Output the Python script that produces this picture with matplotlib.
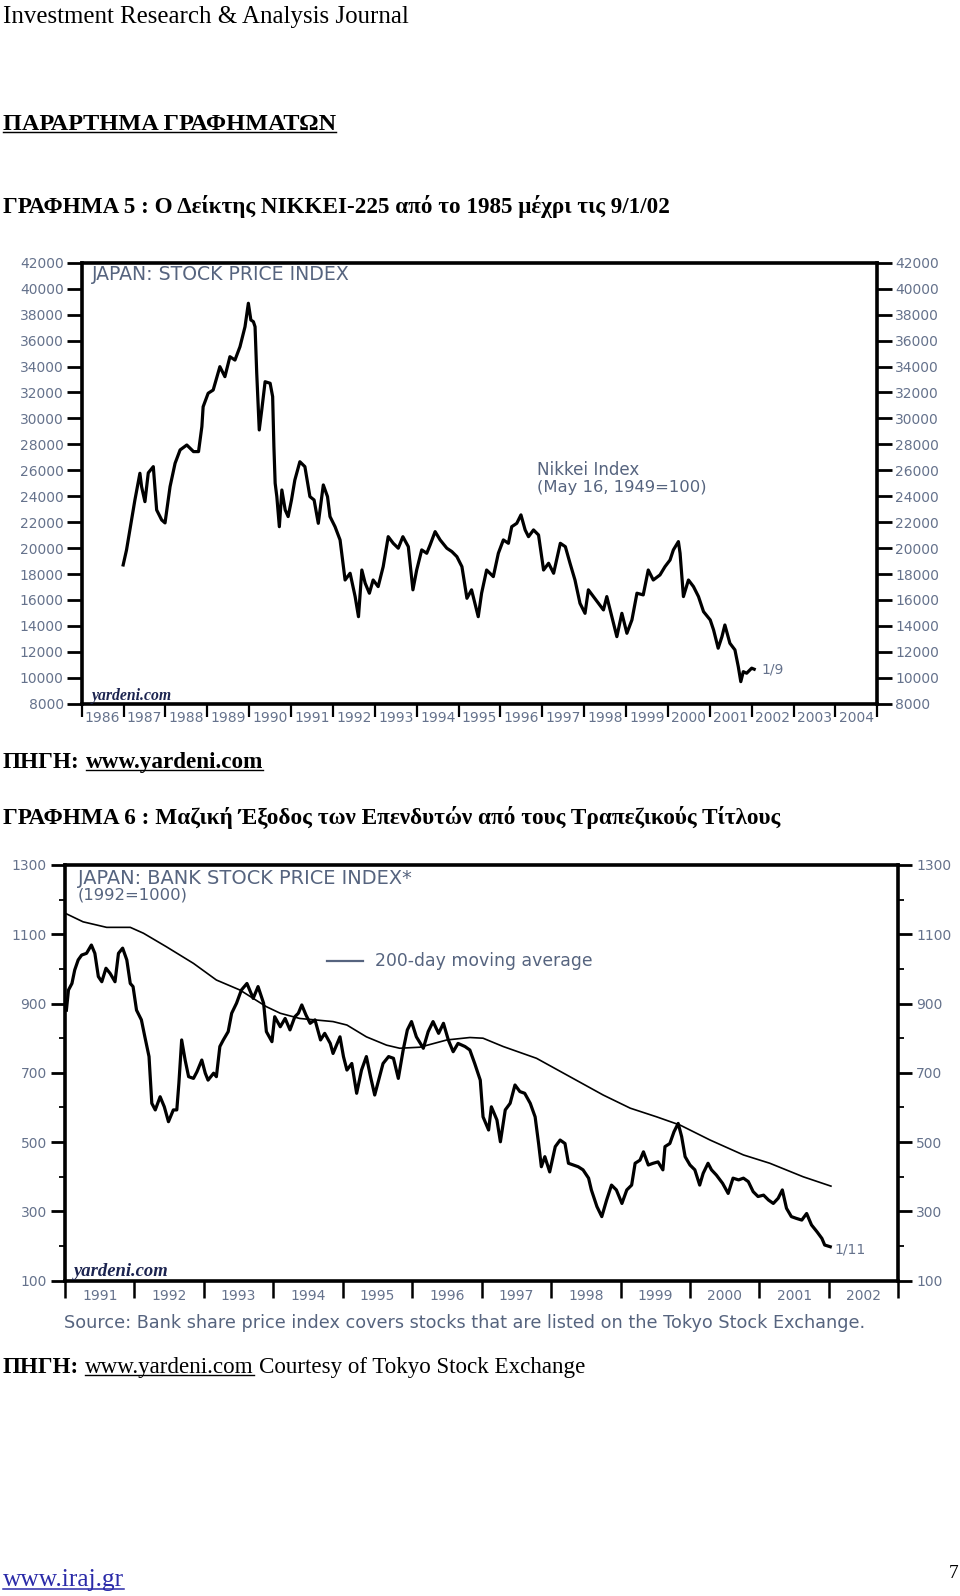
import matplotlib
matplotlib.use("Agg")
import matplotlib.pyplot as plt
from matplotlib.lines import Line2D

# ---------------- data ----------------
# Chart 1: Nikkei 225
nk_year = [1986.99, 1987.07, 1987.15, 1987.27, 1987.39, 1987.43, 1987.51, 1987.59, 1987.71, 1987.79,
           1987.91, 1987.99, 1988.11, 1988.23, 1988.35, 1988.51, 1988.67, 1988.79, 1988.87, 1988.90,
           1989.02, 1989.14, 1989.30, 1989.42, 1989.54, 1989.66, 1989.78, 1989.90, 1989.98, 1990.04,
           1990.10, 1990.14, 1990.18, 1990.24, 1990.30, 1990.38, 1990.50, 1990.56, 1990.59, 1990.62,
           1990.66, 1990.72, 1990.78, 1990.86, 1990.93, 1991.01, 1991.09, 1991.21, 1991.33, 1991.45,
           1991.55, 1991.65, 1991.77, 1991.87, 1991.93, 1992.05, 1992.17, 1992.29, 1992.41, 1992.53,
           1992.61, 1992.69, 1992.77, 1992.87, 1992.96, 1993.08, 1993.20, 1993.32, 1993.44, 1993.56,
           1993.67, 1993.80, 1993.91, 1994.00, 1994.12, 1994.24, 1994.32, 1994.44, 1994.56, 1994.72,
           1994.84, 1994.96, 1995.08, 1995.20, 1995.31, 1995.47, 1995.55, 1995.67, 1995.83, 1995.95,
           1996.07, 1996.19, 1996.27, 1996.39, 1996.49, 1996.59, 1996.67, 1996.79, 1996.91, 1997.03,
           1997.15, 1997.27, 1997.43, 1997.55, 1997.66, 1997.78, 1997.90, 1998.02, 1998.10, 1998.22,
           1998.34, 1998.46, 1998.54, 1998.66, 1998.78, 1998.90, 1999.02, 1999.14, 1999.26, 1999.41,
           1999.53, 1999.65, 1999.81, 1999.93, 2000.05, 2000.13, 2000.25, 2000.29, 2000.37, 2000.49,
           2000.61, 2000.73, 2000.85, 2001.01, 2001.09, 2001.20, 2001.29, 2001.36, 2001.48, 2001.60,
           2001.68, 2001.74, 2001.80, 2001.88, 2002.00, 2002.06]
nk_value = [18700, 19850, 21400, 23700, 25770, 24740, 23580, 25800, 26280, 22940,
            22170, 21940, 24740, 26540, 27570, 27950, 27440, 27440, 29370, 30900,
            31940, 32190, 33990, 33220, 34760, 34500, 35530, 37070, 38880, 37590,
            37460, 37070, 33480, 29110, 30650, 32830, 32710, 31680, 27820, 25000,
            23970, 21650, 24480, 22940, 22430, 23710, 25250, 26660, 26280, 23970,
            23710, 21910, 24870, 23970, 22430, 21650, 20630, 17540, 18060, 16260,
            14710, 18310, 17290, 16520, 17540, 17030, 18570, 20880, 20370, 19990,
            20880, 20110, 16780, 18310, 19860, 19600, 20240, 21270, 20630, 19990,
            19730, 19340, 18570, 16130, 16780, 14710, 16520, 18310, 17800, 19600,
            20630, 20370, 21650, 21910, 22560, 21400, 20880, 21400, 21010, 18310,
            18830, 18060, 20370, 20110, 18850, 17540, 15740, 14970, 16780, 16260,
            15740, 15230, 16260, 14710, 13170, 14970, 13430, 14460, 16520, 16390,
            18310, 17540, 17930, 18570, 19080, 19860, 20500, 19600, 16260, 17540,
            17030, 16260, 15100, 14460, 13690, 12280, 13170, 14070, 12660, 12150,
            10860, 9700, 10470, 10350, 10740, 10660]
nk_years_axis = list(range(1986, 2005))
nk_yticks = list(range(8000, 42001, 2000))

# Chart 2: Japan bank stock price index and its 200-day moving average
bk_year = [1991.02, 1991.05, 1991.10, 1991.14, 1991.19, 1991.24, 1991.31, 1991.38, 1991.43, 1991.48,
           1991.53, 1991.59, 1991.65, 1991.72, 1991.77, 1991.83, 1991.89, 1991.94, 1991.98, 1992.03,
           1992.10, 1992.15, 1992.21, 1992.25, 1992.30, 1992.37, 1992.43, 1992.49, 1992.56, 1992.61,
           1992.64, 1992.68, 1992.73, 1992.78, 1992.85, 1992.90, 1992.97, 1993.02, 1993.06, 1993.14,
           1993.18, 1993.23, 1993.28, 1993.35, 1993.40, 1993.47, 1993.54, 1993.62, 1993.66, 1993.71,
           1993.78, 1993.86, 1993.90, 1993.98, 1994.02, 1994.10, 1994.17, 1994.24, 1994.31, 1994.36,
           1994.41, 1994.47, 1994.53, 1994.60, 1994.68, 1994.74, 1994.82, 1994.86, 1994.96, 1995.01,
           1995.06, 1995.13, 1995.20, 1995.27, 1995.34, 1995.40, 1995.46, 1995.53, 1995.58, 1995.66,
           1995.73, 1995.80, 1995.87, 1995.93, 1995.99, 1996.06, 1996.16, 1996.23, 1996.30, 1996.38,
           1996.45, 1996.52, 1996.59, 1996.66, 1996.76, 1996.83, 1996.90, 1996.98, 1997.02, 1997.10,
           1997.14, 1997.22, 1997.27, 1997.34, 1997.41, 1997.48, 1997.55, 1997.62, 1997.70, 1997.77,
           1997.82, 1997.86, 1997.91, 1997.98, 1998.06, 1998.13, 1998.20, 1998.25, 1998.32, 1998.39,
           1998.46, 1998.54, 1998.58, 1998.66, 1998.73, 1998.80, 1998.87, 1998.94, 1999.02, 1999.09,
           1999.16, 1999.21, 1999.28, 1999.33, 1999.40, 1999.47, 1999.54, 1999.61, 1999.64, 1999.71,
           1999.77, 1999.83, 1999.88, 1999.93, 2000.00, 2000.07, 2000.14, 2000.19, 2000.26, 2000.31,
           2000.38, 2000.47, 2000.55, 2000.62, 2000.70, 2000.77, 2000.84, 2000.91, 2000.98, 2001.06,
           2001.13, 2001.20, 2001.27, 2001.33, 2001.39, 2001.46, 2001.53, 2001.61, 2001.68, 2001.75,
           2001.83, 2001.90, 2001.94, 2002.02]
bk_value = [881, 939, 958, 997, 1026, 1040, 1045, 1069, 1045, 978,
            963, 1002, 987, 963, 1045, 1060, 1026, 958, 949, 881,
            853, 804, 747, 612, 593, 631, 602, 559, 593, 593,
            670, 795, 737, 689, 684, 703, 737, 699, 679, 699,
            689, 776, 795, 819, 872, 901, 939, 958, 939, 915,
            949, 901, 819, 790, 862, 833, 857, 824, 862, 872,
            896, 867, 843, 853, 795, 814, 785, 756, 804, 747,
            708, 727, 641, 708, 747, 689, 636, 689, 727, 747,
            742, 684, 766, 824, 848, 804, 771, 819, 848, 814,
            843, 795, 761, 785, 776, 766, 727, 679, 573, 535,
            602, 564, 501, 593, 612, 665, 646, 641, 612, 573,
            496, 429, 458, 414, 487, 506, 496, 439, 434, 429,
            420, 396, 362, 314, 285, 333, 376, 362, 323, 362,
            376, 439, 448, 472, 434, 439, 443, 420, 487, 496,
            530, 554, 516, 458, 434, 420, 376, 410, 439, 420,
            405, 381, 352, 396, 391, 396, 386, 357, 343, 347,
            333, 323, 338, 362, 309, 285, 280, 275, 294, 261,
            241, 222, 203, 198]
ma_year = [1991.00, 1991.26, 1991.60, 1991.94, 1992.13, 1992.46, 1992.85, 1993.18, 1993.52, 1993.90,
           1994.10, 1994.38, 1994.86, 1995.06, 1995.34, 1995.63, 1995.82, 1996.11, 1996.50, 1996.83,
           1997.02, 1997.31, 1997.79, 1998.27, 1998.75, 1999.14, 1999.52, 1999.86, 2000.29, 2000.77,
           2001.15, 2001.63, 2002.03]
ma_value = [1161, 1136, 1120, 1120, 1103, 1064, 1016, 968, 939, 891,
            872, 857, 848, 838, 804, 780, 771, 774, 795, 802,
            800, 776, 742, 689, 636, 598, 573, 549, 506, 463,
            439, 400, 373]
bk_years_axis = list(range(1991, 2003))
bk_yticks = list(range(100, 1301, 200))
bk_yminor = list(range(200, 1201, 200))

# ---------------- figure ----------------
W, H = 960, 1596
fig = plt.figure(figsize=(W / 100, H / 100), dpi=100)
fig.patch.set_facecolor("white")
renderer = fig.canvas.get_renderer()

SLATE = "#56647f"
TICK = "#65728c"
NAVY = "#1c2450"
SERIF = "Liberation Serif"
TICKSIZE = 10


def fx(x):
    return x / W


def fy(y):
    return 1 - y / H


def twidth(t):
    return t.get_window_extent(renderer).width


def runs_line(x, y, runs, target, family=SERIF, va="baseline", gap_em=0.25):
    def place(size):
        objs = []
        cur = x
        gap = size * 100 / 72 * gap_em
        for i, (s, opt) in enumerate(runs):
            if i > 0:
                cur += gap
            t = fig.text(fx(cur), fy(y), s, fontsize=size, family=family,
                         fontweight=opt.get("weight", "normal"),
                         fontstyle=opt.get("style", "normal"),
                         color=opt.get("color", "black"), va=va, ha="left")
            w = twidth(t)
            objs.append((t, cur, w, opt))
            cur += w
        return objs, cur - x

    objs, total = place(20)
    for o in objs:
        o[0].remove()
    size = 20 * target / total
    objs, total = place(size)
    for t, x0, w, opt in objs:
        if opt.get("underline"):
            uy = y + size * 100 / 72 * 0.10
            fig.add_artist(Line2D([fx(x0), fx(x0 + w)], [fy(uy), fy(uy)],
                                  color=opt.get("color", "black"),
                                  lw=max(0.9, size * 0.06)))
    return size


# ---------------- page text ----------------
runs_line(3, 22.5, [("Investment Research & Analysis Journal", {})], 406)
runs_line(3, 130, [("ΠΑΡΑΡΤΗΜΑ ΓΡΑΦΗΜΑΤΩΝ", {"weight": "bold", "underline": True})], 332)
runs_line(3, 213, [("ΓΡΑΦΗΜΑ 5 : Ο Δείκτης NIKKEI-225 από το 1985 μέχρι τις 9/1/02",
                    {"weight": "bold"})], 667)
runs_line(3, 768, [("ΠΗΓΗ:", {"weight": "bold"}),
                   ("www.yardeni.com", {"weight": "bold", "underline": True})], 259)
runs_line(3, 824, [("ΓΡΑΦΗΜΑ 6 : Μαζική Έξοδος των Επενδυτών από τους Τραπεζικούς Τίτλους",
                    {"weight": "bold"})], 778)
runs_line(3, 1373, [("ΠΗΓΗ:", {"weight": "bold"}),
                    ("www.yardeni.com", {"underline": True}),
                    ("Courtesy of Tokyo Stock Exchange", {})], 582)
runs_line(3, 1586, [("www.iraj.gr", {"underline": True, "color": "#2a2aa8"})], 121)
fig.text(fx(958), fy(1578), "7", fontsize=14, family=SERIF, ha="right", va="baseline")

# ---------------- chart 1 ----------------
ax1 = fig.add_axes([fx(81.7), fy(703.7), (877.3 - 81.7) / W, (703.7 - 262.8) / H])
ax1.plot(nk_year, nk_value, color="black", lw=2.3, solid_joinstyle="round")
ax1.set_xlim(1986, 2005)
ax1.set_ylim(8000, 42000)
ax1.set_yticks(nk_yticks)
ax1.set_yticklabels([str(v) for v in nk_yticks])
ax1.tick_params(axis="y", which="major", left=True, right=True, labelleft=True,
                labelright=True, length=11, width=2, direction="out",
                labelsize=TICKSIZE, labelcolor=TICK, pad=2)
ax1.set_xticks(list(range(1986, 2006)))
ax1.set_xticklabels([])
ax1.set_xticks([y + 0.5 for y in nk_years_axis], minor=True)
ax1.set_xticklabels([str(y) for y in nk_years_axis], minor=True)
ax1.tick_params(axis="x", which="major", length=9, width=1.6, direction="out")
ax1.tick_params(axis="x", which="minor", length=0, pad=5, labelsize=TICKSIZE, labelcolor=TICK)
for sp in ax1.spines.values():
    sp.set_linewidth(2.6)

runs_line(92, 280, [("JAPAN: STOCK PRICE INDEX", {"color": SLATE})], 258,
          family="DejaVu Sans")
runs_line(537, 475, [("Nikkei Index", {"color": SLATE})], 102, family="DejaVu Sans")
runs_line(537, 492, [("(May 16, 1949=100)", {"color": SLATE})], 170, family="DejaVu Sans")
ax1.annotate("1/9", xy=(nk_year[-1], nk_value[-1]), xytext=(5, 0),
             textcoords="offset points", fontsize=TICKSIZE, color=TICK, va="center")
runs_line(92, 700, [("yardeni.com", {"color": NAVY, "style": "italic", "weight": "bold"})], 80)

# ---------------- chart 2 ----------------
ax2 = fig.add_axes([fx(65), fy(1280.7), (898.3 - 65) / W, (1280.7 - 865) / H])
ax2.plot(bk_year, bk_value, color="black", lw=2.3, solid_joinstyle="round")
ax2.plot(ma_year, ma_value, color="black", lw=1.2)
ax2.set_xlim(1991, 2003)
ax2.set_ylim(100, 1300)
ax2.set_yticks(bk_yticks)
ax2.set_yticklabels([str(v) for v in bk_yticks])
ax2.set_yticks(bk_yminor, minor=True)
ax2.tick_params(axis="y", which="major", left=True, right=True, labelleft=True,
                labelright=True, length=10, width=2, direction="out",
                labelsize=TICKSIZE, labelcolor=TICK, pad=3)
ax2.tick_params(axis="y", which="minor", left=True, right=True, length=4, width=1.3,
                direction="out")
ax2.set_xticks(list(range(1991, 2004)))
ax2.set_xticklabels([])
ax2.set_xticks([y + 0.5 for y in bk_years_axis], minor=True)
ax2.set_xticklabels([str(y) for y in bk_years_axis], minor=True)
ax2.tick_params(axis="x", which="major", length=12, width=1.8, direction="out")
ax2.tick_params(axis="x", which="minor", length=0, pad=6, labelsize=TICKSIZE, labelcolor=TICK)
for sp in ax2.spines.values():
    sp.set_linewidth(2.6)

runs_line(78, 884, [("JAPAN: BANK STOCK PRICE INDEX*", {"color": SLATE})], 335,
          family="DejaVu Sans")
runs_line(78, 899, [("(1992=1000)", {"color": SLATE})], 110, family="DejaVu Sans")
fig.add_artist(Line2D([fx(327), fx(363)], [fy(961), fy(961)], color=SLATE, lw=1.6))
runs_line(375, 966, [("200-day moving average", {"color": SLATE})], 217, family="DejaVu Sans")
ax2.annotate("1/11", xy=(bk_year[-1], bk_value[-1]), xytext=(3, -2),
             textcoords="offset points", fontsize=TICKSIZE, color=TICK, va="center")
runs_line(74, 1276, [("yardeni.com", {"color": NAVY, "style": "italic", "weight": "bold"})], 95)
runs_line(64, 1328, [("Source: Bank share price index covers stocks that are listed on the "
                      "Tokyo Stock Exchange.", {"color": SLATE})], 799, family="DejaVu Sans")

fig.savefig("out.png", dpi=100, facecolor="white")
